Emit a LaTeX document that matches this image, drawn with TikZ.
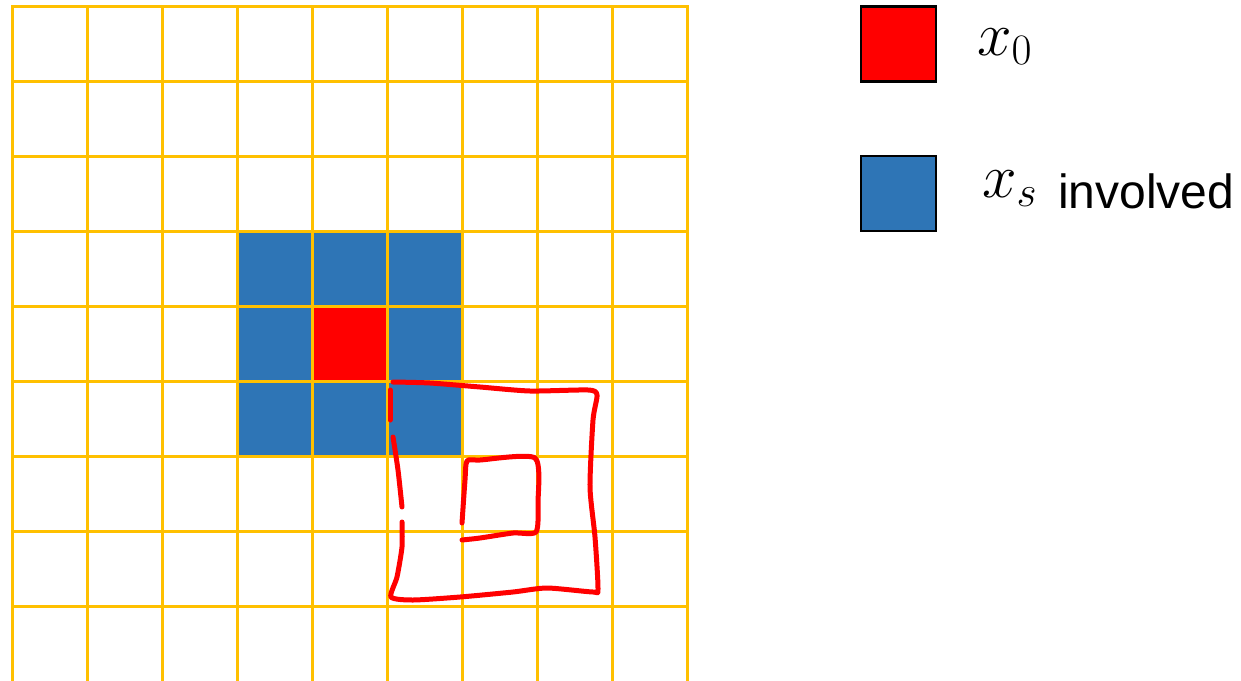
\RequirePackage{fix-cm}
\documentclass[tikz,border=0pt]{standalone}
\usepackage{fontspec}
\setsansfont{Liberation Sans}
\usepackage{tikz}

\definecolor{gridyellow}{RGB}{255,192,0}
\definecolor{cellblue}{RGB}{46,117,182}
\definecolor{cellred}{RGB}{255,0,0}

\begin{document}
\begin{tikzpicture}[
    x=1pt, y=-1pt,
    gridline/.style={draw=gridyellow, line width=3pt, line cap=rect},
    stroke/.style={draw=cellred, line width=5pt, line cap=round, line join=round},
    legbox/.style={draw=black, line width=2.5pt, minimum size=75pt, inner sep=0pt},
    mathlabel/.style={anchor=base west, inner sep=0pt, font=\fontsize{62}{66}\selectfont},
    wordlabel/.style={anchor=base west, inner sep=0pt, font=\sffamily\fontsize{48}{52}\selectfont}
]
\useasboundingbox (0,0) rectangle (1241,680);
\def\cs{75.05}

% Cells
\foreach \i in {3,4,5}
  \foreach \j in {3,4,5}
    \fill[cellblue] ({12.5+\i*\cs},{6+\j*\cs}) rectangle ++(\cs,\cs);
\fill[cellred] ({12.5+4*\cs},{6+4*\cs}) rectangle ++(\cs,\cs);

% Grid
\foreach \i in {0,...,9}
  \draw[gridline] ({12.5+\i*\cs},6) -- ({12.5+\i*\cs},680);
\foreach \j in {0,...,8}
  \draw[gridline] (12.5,{6+\j*\cs}) -- ({12.5+9*\cs},{6+\j*\cs});

% Hand-drawn squares
\draw[stroke] plot[smooth, tension=0.4] coordinates {(393,382) (430,383) (480,387) (530,391) (588,390) (597,395) (593,420) (590,487) (595,537) (598,589) (593,592) (547,588) (513,592) (460,597) (413,600) (391,597) (397,577) (402,547) (402,522)};
\draw[stroke] plot[smooth, tension=0.4] coordinates {(402,507) (398,470) (393,437)};
\draw[stroke] plot[smooth, tension=0.4] coordinates {(390,420) (390,390)};
\draw[stroke] plot[smooth, tension=0.4] coordinates {(462,523) (465,480) (467,461) (480,460) (535,458) (538,503) (536,532) (513,533) (480,538) (462,540)};

% Legend
\node[legbox, fill=cellred] (redbox) at (898.5,44) {};
\node[legbox, fill=cellblue] (bluebox) at (898.5,193.5) {};
\node[mathlabel] (xzero) at (977,55) {$x_0$};
\node[mathlabel] (xs) at (982,197) {$x_s$};
\node[wordlabel] (involved) at (1058,208) {involved};

\end{tikzpicture}
\end{document}
